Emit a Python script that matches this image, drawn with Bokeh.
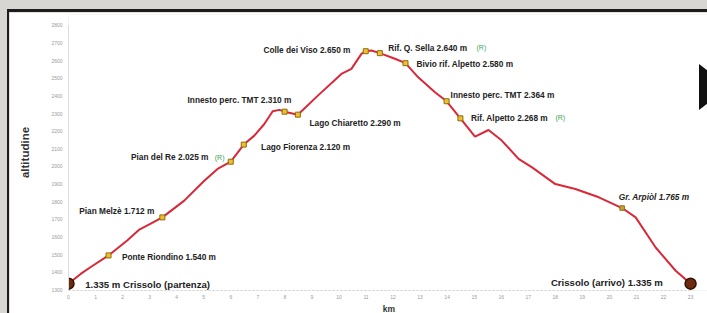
from bokeh.plotting import figure
from bokeh.models import ColumnDataSource, FixedTicker, Range1d, GlobalInlineStyleSheet
from bokeh.core.properties import value
from bokeh.embed import file_html
from bokeh.resources import INLINE

# ---- elevation profile (km, m) ----
profile_km = [0.00, 0.45, 0.81, 1.48, 2.17, 2.60, 3.04, 3.47, 4.28, 5.02, 5.51, 6.00,
              6.48, 6.87, 7.24, 7.55, 7.80, 7.99, 8.48, 9.22, 10.09, 10.46, 10.83,
              10.99, 11.20, 11.51, 12.07, 12.46, 12.93, 13.55, 13.98, 14.49, 15.03,
              15.53, 16.02, 16.64, 17.14, 18.00, 18.74, 19.61, 20.47, 20.97, 21.71,
              22.45, 23.00]
profile_alt = [1335, 1390, 1428, 1495, 1580, 1640, 1675, 1711, 1806, 1919, 1986, 2027,
               2124, 2175, 2241, 2313, 2321, 2311, 2294, 2402, 2525, 2554, 2639,
               2654, 2658, 2643, 2611, 2586, 2506, 2421, 2370, 2273, 2169,
               2207, 2147, 2043, 1995, 1900, 1872, 1825, 1764, 1711, 1540,
               1408, 1335]

# ---- waypoints ----
wp_km = [1.48, 3.47, 6.00, 6.48, 7.99, 8.48, 10.99, 11.51, 12.46, 13.98, 14.49]
wp_alt = [1495, 1711, 2027, 2124, 2311, 2294, 2654, 2643, 2586, 2370, 2273]
wp_labels = ["Ponte Riondino 1.540 m", "Pian Melzè 1.712 m", "Pian del Re 2.025 m",
             "Lago Fiorenza 2.120 m", "Innesto perc. TMT 2.310 m", "Lago Chiaretto 2.290 m",
             "Colle dei Viso 2.650 m", "Rif. Q. Sella 2.640 m", "Bivio rif. Alpetto 2.580 m",
             "Innesto perc. TMT 2.364 m", "Rif. Alpetto 2.268 m"]

arp_km = [20.47]
arp_alt = [1764]
arp_labels = ["Gr.  Arpiòl 1.765 m"]

ends_km = [0, 23]
ends_alt = [1335, 1335]
ends_labels = ["1.335 m Crissolo (partenza)", "Crissolo (arrivo) 1.335 m"]

refuge_km = [6.00, 11.51, 14.49]
refuge_alt = [2027, 2643, 2273]
refuge_labels = ["(R)", "(R)", "(R)"]

x_ticks = list(range(0, 24))
y_ticks = list(range(1300, 2900, 100))

# ---- label placement (screen px offsets) ----
wp_dx = [13.4, -8, -22.3, 17.3, 6.7, 11.6, -15.3, 8.4, 11, 4, 10.6]
wp_dy = [1.7, -6.7, -4.3, 2.7, -11.7, 8.3, -1.7, -5.4, 0.6, -6.7, -0.4]
wp_align = ["left", "right", "right", "left", "right", "left", "right", "left", "left", "left", "left"]
ends_dx = [16.7, -27.7]
ends_dy = [0.5, -1.3]
ends_align = ["left", "right"]
refuge_dx = [-16, 96.7, 95]
refuge_dy = [-4.3, -5.4, -0.4]

FONT = "Liberation Sans"
RED = "#d92838"

p = figure(width=698, height=301, output_backend="svg", toolbar_location=None,
           x_range=Range1d(0, 23.70), y_range=Range1d(1296, 2862.4),
           min_border_left=59, min_border_right=0, min_border_top=2, min_border_bottom=23)
p.grid.visible = False
p.outline_line_color = None
p.background_fill_color = "white"
p.border_fill_color = "white"

# screenshot frame: grey page, dark border top/left of the white panel,
# and the slideshow "next" arrow at the right edge
page_css = """
html, body { background: #d8d6d2 !important; }
body::after {
  content: ""; position: fixed; left: 699px; top: 64px; width: 0; height: 0;
  border-top: 23.5px solid transparent; border-bottom: 23.5px solid transparent;
  border-left: 30px solid #111111; z-index: 10;
}
"""
p.stylesheets = [GlobalInlineStyleSheet(css=page_css)]
p.styles = {"box-sizing": "content-box", "margin-left": "7px", "margin-top": "9px",
            "border-top": "3px solid #1c1c1c", "border-left": "2px solid #1c1c1c"}

# axes
p.yaxis.ticker = FixedTicker(ticks=y_ticks)
p.yaxis.bounds = (1300, 2800)
p.yaxis.axis_line_color = "#dcdcdc"
p.yaxis.major_tick_line_color = None
p.yaxis.minor_tick_line_color = None
p.yaxis.major_tick_out = 0
p.yaxis.major_tick_in = 0
p.yaxis.minor_tick_out = 0
p.yaxis.major_label_text_font_size = "5px"
p.yaxis.major_label_text_color = "#9a9a9a"
p.yaxis.major_label_text_font = FONT
p.yaxis.major_label_standoff = 6
p.yaxis.axis_label = "altitudine"
p.yaxis.axis_label_text_font = FONT
p.yaxis.axis_label_text_font_style = "bold"
p.yaxis.axis_label_text_font_size = "11.5px"
p.yaxis.axis_label_text_color = "#333333"
p.yaxis.axis_label_standoff = 17

p.xaxis.ticker = FixedTicker(ticks=x_ticks)
p.xaxis.bounds = (0, 23)
p.xaxis.axis_line_color = "#d0d0d0"
p.xaxis.axis_line_dash = "2 2"
p.xaxis.major_tick_line_color = None
p.xaxis.minor_tick_line_color = None
p.xaxis.major_tick_out = 0
p.xaxis.major_tick_in = 0
p.xaxis.minor_tick_out = 0
p.xaxis.major_label_text_font_size = "5px"
p.xaxis.major_label_text_color = "#9a9a9a"
p.xaxis.major_label_text_font = FONT
p.xaxis.major_label_standoff = 4
p.xaxis.axis_label = "km"
p.xaxis.axis_label_text_font = FONT
p.xaxis.axis_label_text_font_style = "bold"
p.xaxis.axis_label_text_font_size = "8.5px"
p.xaxis.axis_label_text_color = "#333333"
p.xaxis.axis_label_standoff = 2

# profile line
p.line(profile_km, profile_alt, line_color=RED, line_width=2)

# waypoint markers
wp_src = ColumnDataSource(dict(x=wp_km, y=wp_alt, text=wp_labels, dx=wp_dx, dy=wp_dy, align=wp_align))
p.scatter("x", "y", source=wp_src, marker="square", size=5,
          fill_color="#f0c02a", line_color="#8c6a12", line_width=1)
arp_src = ColumnDataSource(dict(x=arp_km, y=arp_alt, text=arp_labels))
p.scatter("x", "y", source=arp_src, marker="square", size=4.5,
          fill_color="#c9a23a", line_color="#8c6a12", line_width=1)
ends_src = ColumnDataSource(dict(x=ends_km, y=ends_alt, text=ends_labels, dx=ends_dx, dy=ends_dy, align=ends_align))
p.scatter("x", "y", source=ends_src, marker="circle", size=11,
          fill_color="#6e2a0e", line_color="#2b1206", line_width=1.5)

# labels
p.text("x", "y", text="text", source=wp_src, x_offset="dx", y_offset="dy", text_align="align",
       text_baseline="middle", text_font=value(FONT), text_font_style="bold",
       text_font_size="8.3px", text_color="#222222")
p.text("x", "y", text="text", source=arp_src, x_offset=-3.3, y_offset=-10.6, text_align="left",
       text_baseline="middle", text_font=value(FONT), text_font_style="bold italic",
       text_font_size="8.3px", text_color="#222222")
p.text("x", "y", text="text", source=ends_src, x_offset="dx", y_offset="dy", text_align="align",
       text_baseline="middle", text_font=value(FONT), text_font_style="bold",
       text_font_size="9.6px", text_color="#222222")
ref_src = ColumnDataSource(dict(x=refuge_km, y=refuge_alt, text=refuge_labels, dx=refuge_dx, dy=refuge_dy))
p.text("x", "y", text="text", source=ref_src, x_offset="dx", y_offset="dy", text_align="left",
       text_baseline="middle", text_font=value(FONT), text_font_size="7px", text_color="#3aa655")

open("out.html", "w").write(file_html(p, INLINE))
